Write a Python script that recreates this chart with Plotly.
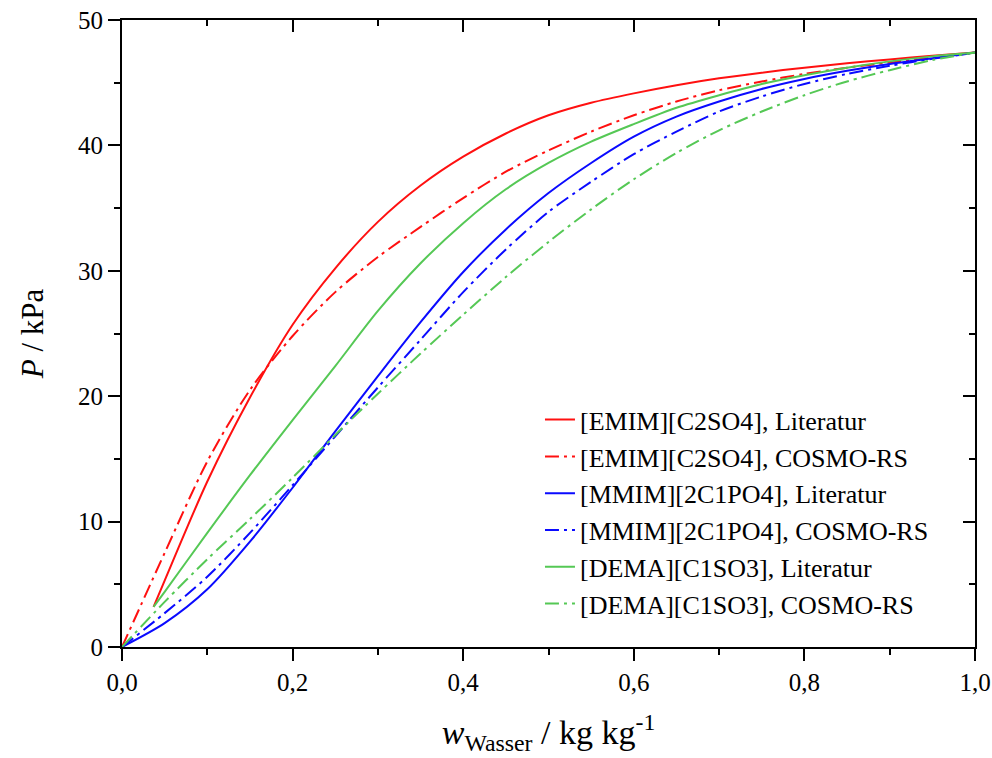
import plotly.graph_objects as go

w_grid = [0.0, 0.05, 0.1, 0.15, 0.2, 0.25, 0.3, 0.35, 0.4, 0.45, 0.5,
          0.55, 0.6, 0.65, 0.7, 0.75, 0.8, 0.85, 0.9, 0.95, 1.0]
w_lit = [0.037] + w_grid[1:]

emim_lit = [3.2, 5.3, 13.2, 19.9, 25.7, 30.2, 33.9, 36.8, 39.1, 40.95, 42.4,
            43.4, 44.15, 44.8, 45.35, 45.8, 46.2, 46.55, 46.85, 47.15, 47.4]
emim_cosmo = [0.0, 7.5, 14.8, 20.5, 24.8, 28.3, 31.1, 33.5, 35.8, 37.9, 39.6,
              41.1, 42.4, 43.5, 44.4, 45.1, 45.7, 46.2, 46.6, 47.0, 47.4]
mmim_lit = [0.0, 1.9, 4.6, 8.4, 12.7, 17.2, 21.6, 25.9, 29.9, 33.3, 36.2,
            38.6, 40.7, 42.3, 43.5, 44.5, 45.3, 45.95, 46.5, 46.95, 47.4]
mmim_cosmo = [0.0, 2.7, 5.6, 9.1, 12.9, 16.8, 20.7, 24.5, 28.3, 31.7, 34.7,
              37.1, 39.3, 41.1, 42.7, 43.9, 44.9, 45.7, 46.35, 46.9, 47.4]
dema_lit = [3.2, 4.4, 9.1, 13.7, 18.1, 22.4, 26.8, 30.6, 33.8, 36.5, 38.6,
            40.3, 41.7, 43.0, 44.0, 44.9, 45.6, 46.2, 46.7, 47.1, 47.4]
dema_cosmo = [0.0, 3.6, 7.0, 10.2, 13.5, 16.9, 20.2, 23.4, 26.5, 29.5, 32.3,
              34.9, 37.3, 39.4, 41.2, 42.7, 44.0, 45.1, 46.0, 46.8, 47.4]

RED = "#ff1010"
BLUE = "#0a0aff"
GREEN = "#55c855"
DD = "14px,5px,3px,5px"

series = [
    ("[EMIM][C2SO4], Literatur", w_lit, emim_lit, RED, "solid"),
    ("[EMIM][C2SO4], COSMO-RS", w_grid, emim_cosmo, RED, DD),
    ("[MMIM][2C1PO4], Literatur", w_grid, mmim_lit, BLUE, "solid"),
    ("[MMIM][2C1PO4], COSMO-RS", w_grid, mmim_cosmo, BLUE, DD),
    ("[DEMA][C1SO3], Literatur", w_lit, dema_lit, GREEN, "solid"),
    ("[DEMA][C1SO3], COSMO-RS", w_grid, dema_cosmo, GREEN, DD),
]

fig = go.Figure()
for name, xs, ys, col, dash in series:
    fig.add_trace(go.Scatter(x=xs, y=ys, name=name, mode="lines",
                             line=dict(color=col, width=2, dash=dash,
                                       shape="spline", smoothing=0.8)))

fig.add_trace(go.Scatter(x=[None], y=[None], xaxis="x2", yaxis="y2",
                         showlegend=False, hoverinfo="skip"))

FONT = "Liberation Serif, Times New Roman, serif"
axis_common = dict(showline=True, linewidth=2, linecolor="black",
                   showgrid=False, zeroline=False, tickwidth=2,
                   tickcolor="black", automargin=False)

fig.update_layout(
    width=992, height=758,
    margin=dict(l=122, r=17, t=20, b=111),
    paper_bgcolor="white", plot_bgcolor="white",
    separators=", ",
    font=dict(family=FONT, size=25, color="black"),
    xaxis=dict(range=[0, 1], dtick=0.2, tickformat=".1f", ticks="outside",
               ticklen=12, ticklabeloverflow="allow",
               minor=dict(dtick=0.1, ticklen=6, tickwidth=2,
                          ticks="outside", tickcolor="black"),
               title=dict(text="<i>w</i><sub>Wasser</sub> / kg kg<sup>-1</sup>",
                          font=dict(size=34), standoff=25),
               **axis_common),
    yaxis=dict(range=[0, 50], dtick=10, ticks="outside", ticklen=12,
               ticklabeloverflow="allow",
               minor=dict(dtick=5, ticklen=6, tickwidth=2, ticks="outside",
                          tickcolor="black"),
               title=dict(text="<i>P</i> / kPa", font=dict(size=31), standoff=25),
               **axis_common),
    xaxis2=dict(range=[0, 1], overlaying="x", side="top", anchor="y2",
                dtick=0.2, ticks="inside", ticklen=12, showticklabels=False,
                minor=dict(dtick=0.1, ticklen=6, tickwidth=2, ticks="inside",
                           tickcolor="black"),
                **axis_common),
    yaxis2=dict(range=[0, 50], overlaying="y", side="right", anchor="x2",
                dtick=10, ticks="inside", ticklen=12, showticklabels=False,
                minor=dict(dtick=5, ticklen=6, tickwidth=2, ticks="inside",
                           tickcolor="black"),
                **axis_common),
    legend=dict(x=0.490, y=0.400, xanchor="left", yanchor="top",
                bgcolor="rgba(0,0,0,0)", font=dict(size=26, family=FONT),
                tracegroupgap=0),
    showlegend=True,
)

# remove the browser's default 8px body margin so the figure fills the window
fig.write_html("out.html",
               config={"displayModeBar": False},
               post_script="document.body.style.margin='0';"
                           "document.body.style.overflow='hidden';")
